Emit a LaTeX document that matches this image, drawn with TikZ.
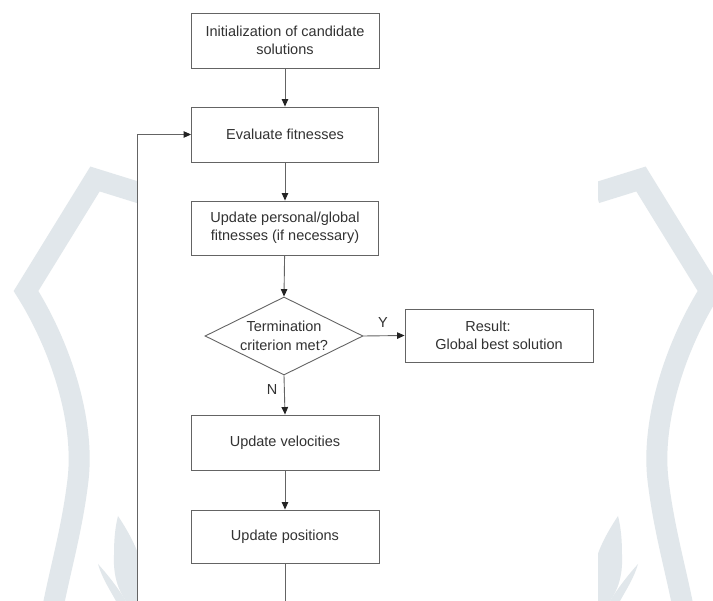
\documentclass[tikz,border=0pt]{standalone}
\usepackage{fontspec}
\setmainfont{Liberation Sans}
\usetikzlibrary{shapes.geometric,arrows.meta}
\definecolor{wmark}{RGB}{225,231,235}
\definecolor{edgegray}{RGB}{100,100,100}
\definecolor{tipgray}{RGB}{35,35,35}
\definecolor{txtgray}{RGB}{50,50,50}
\tikzset{
  x=1pt, y=-1pt,
  every node/.style={font=\fontsize{14.5}{18.5}\selectfont, text=txtgray},
  stepbox/.style={draw=edgegray, line width=0.9pt, rectangle, inner sep=0pt, align=center},
  decision/.style={draw=edgegray, line width=0.9pt, diamond, inner sep=0pt},
  flow/.style={draw=edgegray, line width=0.9pt},
  arr/.style={flow, -{Triangle[length=7.5pt,width=6.5pt,color=tipgray]}},
  band/.style={draw=wmark, line width=21pt, line join=miter},
  flame/.style={fill=wmark, draw=none}
}
% one half of the faint background emblem
\newcommand\emblemhalf{%
  \draw[band] (140,193) -- (95,179) -- (26,291)
    .. controls (60,345) and (85,420) .. (78,480)
    .. controls (72,530) and (60,570) .. (52,612);
  \fill[flame] (118,516) .. controls (126,528) and (136,545) .. (140,560)
    -- (140,601) -- (126,601) .. controls (118,590) and (113,575) .. (114,555)
    .. controls (114,540) and (115,528) .. (118,516) -- cycle;
  \fill[flame] (98,564) .. controls (108,575) and (118,588) .. (126,601)
    -- (116,601) .. controls (110,590) and (102,578) .. (98,564) -- cycle;
}
\begin{document}
\begin{tikzpicture}
\useasboundingbox (0,0) rectangle (713,601);
\fill[white] (0,0) rectangle (713,601);
% background emblem, left and mirrored right half
\emblemhalf
\begin{scope}[xshift=736pt, x=-1pt]
\emblemhalf
\end{scope}
% white sheet of the flowchart
\fill[white] (137,0) rectangle (598,601);

% steps
\node[stepbox, minimum width=188pt, minimum height=55pt] (init) at (285,40.5)
  {Initialization of candidate\\solutions};
\node[stepbox, minimum width=187pt, minimum height=55pt] (eval) at (285,134.5)
  {Evaluate fitnesses};
\node[stepbox, minimum width=187pt, minimum height=54pt] (upd) at (285,228)
  {Update personal/global\\fitnesses (if necessary)};
\node[decision, minimum width=158pt, minimum height=78pt] (dec) at (284,336) {};
\node[align=center, inner sep=0pt] (dectext) at (dec.center)
  {Termination\\criterion met?};
\node[stepbox, minimum width=188pt, minimum height=53pt] (res) at (499,335.5)
  {Result:\hspace*{22pt}\\Global best solution};
\node[stepbox, minimum width=188pt, minimum height=55pt] (vel) at (285,442.5)
  {Update velocities};
\node[stepbox, minimum width=188pt, minimum height=53pt] (pos) at (285,536.5)
  {Update positions};

% loop-back points at the lower edge
\coordinate (loopA) at (285,602);
\coordinate (loopB) at (137,602);

% connectors
\draw[arr] (init) -- (eval);
\draw[arr] (eval) -- (upd);
\draw[arr] (upd) -- (dec.north);
\draw[arr] (dec.east) -- (res.west);
\draw[arr] (dec.south) -- (vel.north);
\draw[arr] (vel) -- (pos);
\draw[flow] (pos.south) -- (loopA);
\draw[arr] (loopB) |- (eval.west);

% branch labels
\node (ylab) at (383,323) {Y};
\node (nlab) at (272,390) {N};
\end{tikzpicture}
\end{document}
